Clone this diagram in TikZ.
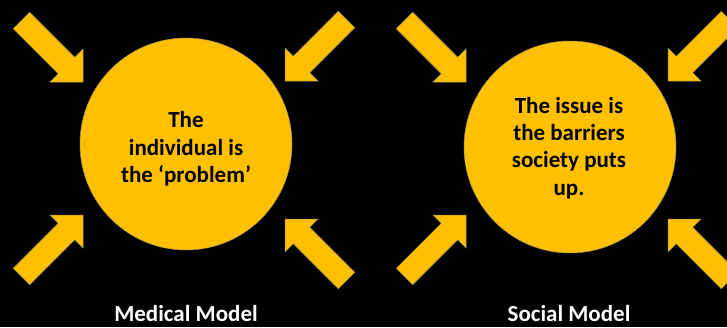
\documentclass[tikz,border=0pt]{standalone}
\usepackage{fontspec}
\setmainfont{Carlito}
\definecolor{gold}{HTML}{FFC000}
\definecolor{rim}{HTML}{A09060}
\tikzset{
  blockarrow/.pic={\fill[gold, draw=rim, line width=0.5pt] (0,0) -- (-23.3,23.3) -- (-23.3,11.6) -- (-87,11.6) -- (-87,-11.6) -- (-23.3,-11.6) -- (-23.3,-23.3) -- cycle;},
  disc/.style={circle, fill=gold, draw=rim, line width=0.5pt, minimum size=212pt, inner sep=0pt},
  intext/.style={align=center, font=\bfseries\fontsize{23}{27.3}\selectfont, text=black, inner sep=0pt},
  modelname/.style={font=\bfseries\fontsize{23}{27}\selectfont, text=white, inner sep=0pt, anchor=base}
}
\begin{document}
\begin{tikzpicture}[x=1pt, y=-1pt]
\useasboundingbox (0,0) rectangle (727,327);
\fill[black] (0,0) rectangle (727,327);
\clip (0,0) rectangle (727,327);
% Medical model
\node[disc] (medc) at (186,144) {};
\pic[rotate=-45] at (83,82) {blockarrow};
\pic[rotate=-135] at (285,81) {blockarrow};
\pic[rotate=45] at (83,215) {blockarrow};
\pic[rotate=135] at (285,219) {blockarrow};
\node[intext] (medt) at (186,149) {The\\individual is\\the ‘problem’};
\node[modelname] (medl) at (186,321.5) {Medical Model};
% Social model
\node[disc] (socc) at (570,147) {};
\pic[rotate=-45] at (466,82) {blockarrow};
\pic[rotate=-135] at (668,81) {blockarrow};
\pic[rotate=45] at (466,215) {blockarrow};
\pic[rotate=135] at (668,219) {blockarrow};
\node[intext] (soct) at (569,148) {The issue is\\the barriers\\society puts\\up.};
\node[modelname] (socl) at (569,321.5) {Social Model};
\end{tikzpicture}
\end{document}
